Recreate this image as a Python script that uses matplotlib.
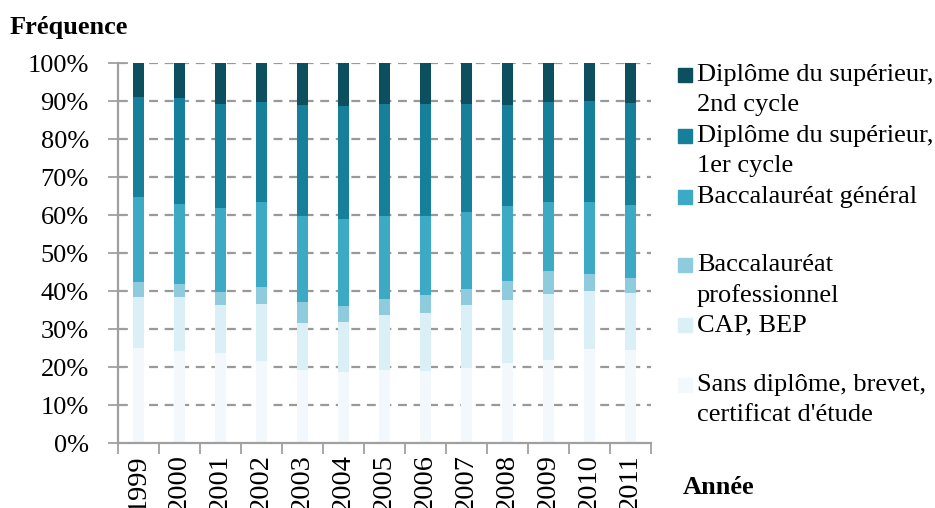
import matplotlib
matplotlib.use("Agg")
import matplotlib.pyplot as plt
from matplotlib.patches import Rectangle
import numpy as np

years = ["1999", "2000", "2001", "2002", "2003", "2004", "2005",
         "2006", "2007", "2008", "2009", "2010", "2011"]

series_names = [
    "Sans diplôme, brevet,\ncertificat d'étude",
    "CAP, BEP",
    "Baccalauréat\nprofessionnel",
    "Baccalauréat général",
    "Diplôme du supérieur,\n1er cycle",
    "Diplôme du supérieur,\n2nd cycle",
]

sans_diplome = [25.1, 24.3, 23.7, 21.6, 19.3, 18.6, 19.3, 19.0, 19.7, 21.0, 21.9, 24.8, 24.6]
cap_bep      = [13.4, 14.0, 12.6, 14.9, 12.3, 13.3, 14.4, 15.2, 16.6, 16.6, 17.2, 15.2, 15.0]
bac_pro      = [3.9, 3.6, 3.5, 4.6, 5.4, 4.2, 4.2, 4.8, 4.2, 5.1, 6.2, 4.5, 3.8]
bac_general  = [22.3, 21.0, 22.1, 22.2, 22.7, 22.8, 21.8, 20.7, 20.2, 19.6, 18.1, 18.9, 19.2]
sup_1er      = [26.4, 28.0, 27.4, 26.5, 29.2, 29.9, 29.4, 29.4, 28.4, 26.7, 26.4, 26.7, 27.0]
sup_2nd      = [8.9, 9.1, 10.7, 10.2, 11.1, 11.2, 10.9, 10.9, 10.9, 11.0, 10.2, 9.9, 10.4]

colors = ["#F2F8FC", "#DAEFF6", "#8ECBDC", "#3CA9C5", "#16809B", "#0C4F5E"]

values = [sans_diplome, cap_bep, bac_pro, bac_general, sup_1er, sup_2nd]

plt.rcParams['font.family'] = ['Liberation Serif', 'DejaVu Serif']
FS = 19

fig = plt.figure(figsize=(9.35, 5.08), dpi=100)
ax = fig.add_axes([118/935, 1-443/508, (651-118)/935, (443-63)/508])

x = np.arange(len(years))
bottom = np.zeros(len(years))
for vals, col in zip(values, colors):
    ax.bar(x, vals, width=0.28, bottom=bottom, color=col, zorder=2)
    bottom += np.array(vals)

ax.set_xlim(-0.5, len(years) - 0.5)
ax.set_ylim(0, 100)
ax.set_yticks(np.arange(0, 101, 10))
ax.set_yticklabels([f"{v}%" for v in range(0, 101, 10)], fontsize=FS)
ax.set_xticks(x)
ax.set_xticklabels(years, rotation=90, fontsize=20.5)
ax.set_xticks(np.arange(-0.5, len(years), 1), minor=True)
ax.tick_params(axis='x', which='major', length=0, pad=8)
ax.tick_params(axis='x', which='minor', length=8, width=1.3, color='#A0A0A0', direction='out')
ax.tick_params(axis='y', length=14, width=1.3, color='#A0A0A0', direction='inout', pad=14)

for y in range(10, 101, 10):
    ax.axhline(y, color='#999999', linestyle=(0, (4, 3)), linewidth=1.6, zorder=1)

for s in ['top', 'right']:
    ax.spines[s].set_visible(False)
for s in ['left', 'bottom']:
    ax.spines[s].set_color('#A0A0A0')
    ax.spines[s].set_linewidth(1.6)

fig.text(10/935, 1-34/508, "Fréquence", fontsize=FS, fontweight='bold', ha='left', va='baseline')
fig.text(683/935, 1-494/508, "Année", fontsize=FS, fontweight='bold', ha='left', va='baseline')

# legend (top to bottom: reverse stack order)
centers = [75, 136, 197, 265, 325, 385]
for name, col, cy in zip(series_names[::-1], colors[::-1], centers):
    fig.add_artist(Rectangle((678/935, 1-(cy+7)/508), 14/935, 14/508,
                             transform=fig.transFigure, color=col))
    fig.text(697/935, 1-(cy-11)/508, name, fontsize=FS, ha='left', va='top',
             linespacing=1.45)

fig.savefig("out.png", dpi=100)
